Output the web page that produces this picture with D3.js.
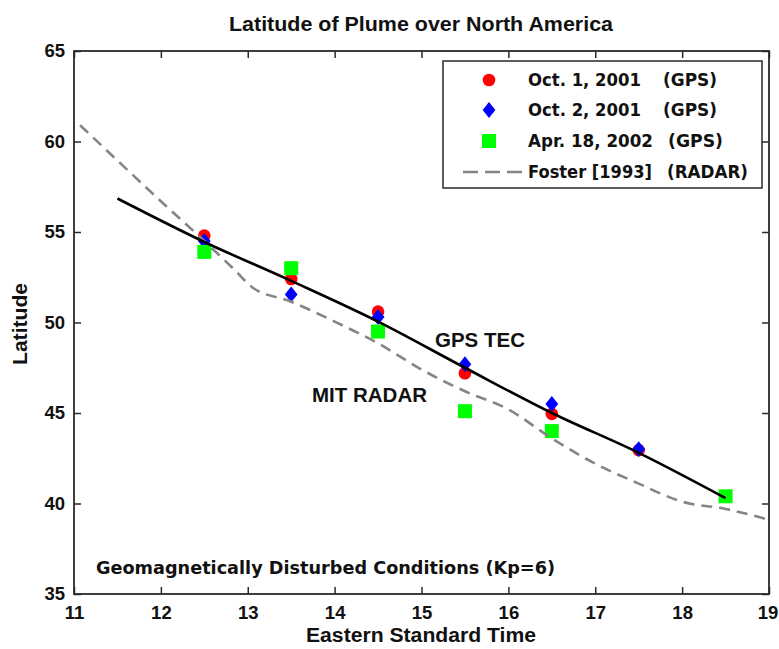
<!DOCTYPE html>
<html>
<head>
<meta charset="utf-8">
<script src="https://cdn.jsdelivr.net/npm/d3@7"></script>
<style>
  html, body { margin: 0; padding: 0; background: #fff; }
  svg { display: block; }
  .sans { font-family: "Liberation Sans", Arial, Helvetica, sans-serif; font-weight: bold; }
  .wide { font-family: "DejaVu Sans", Verdana, sans-serif; font-weight: bold; }
</style>
</head>
<body>
<svg id="chart" width="779" height="649"></svg>
<script>
// Hours (EST) at which each day's plume latitude was measured
const hours = [12.5, 13.5, 14.5, 15.5, 16.5, 17.5, 18.5];
const oct1 = [54.8, 52.4, 50.6, 47.2, 44.95, 42.95, null];
const oct2 = [54.5, 51.55, 50.3, 47.7, 45.5, 43.0, null];
const apr18 = [53.9, 53.0, 49.5, 45.1, 44.0, null, 40.4];

// GPS TEC fit line
const tecHours = [11.5, 12.5, 13.5, 14.5, 15.5, 16.5, 17.5, 18.5];
const tecLat = [56.85, 54.45, 52.3, 50.05, 47.5, 45.0, 42.8, 40.3];

// Foster [1993] radar model
const fosterHours = [11.07, 11.5, 12.0, 12.5, 12.85, 13.05, 13.5, 14.0, 14.5, 15.0, 15.5, 16.0, 16.5, 17.0, 17.5, 18.0, 18.5, 19.0];
const fosterLat = [60.9, 58.95, 56.7, 54.5, 52.9, 51.95, 51.15, 50.05, 48.85, 47.4, 46.2, 45.2, 43.6, 42.2, 41.1, 40.1, 39.7, 39.1];

const xTicks = [11, 12, 13, 14, 15, 16, 17, 18, 19];
const yTicks = [35, 40, 45, 50, 55, 60, 65];

const legendDates = ["Oct. 1, 2001", "Oct. 2, 2001", "Apr. 18, 2002", "Foster [1993]"];
const legendSources = ["(GPS)", "(GPS)", "(GPS)", "(RADAR)"];

const svg = d3.select("#chart");
const L = 74, R = 769, T = 51, B = 594;
const x = d3.scaleLinear().domain([11, 19]).range([L, R]);
const y = d3.scaleLinear().domain([35, 65]).range([B, T]);

const axisColor = "#2a2a2a";
const textColor = "#111";

// axes with inward ticks on all four sides
const gx = svg.append("g").attr("transform", `translate(0,${B})`)
  .call(d3.axisBottom(x).tickValues(xTicks).tickSizeInner(-7).tickSizeOuter(0).tickPadding(12).tickFormat(d3.format("d")));
const gxTop = svg.append("g").attr("transform", `translate(0,${T})`)
  .call(d3.axisTop(x).tickValues(xTicks).tickSizeInner(-7).tickSizeOuter(0).tickFormat(""));
const gy = svg.append("g").attr("transform", `translate(${L},0)`)
  .call(d3.axisLeft(y).tickValues(yTicks).tickSizeInner(-7).tickSizeOuter(0).tickPadding(9).tickFormat(d3.format("d")));
const gyRight = svg.append("g").attr("transform", `translate(${R},0)`)
  .call(d3.axisRight(y).tickValues(yTicks).tickSizeInner(-7).tickSizeOuter(0).tickFormat(""));

[gx, gxTop, gy, gyRight].forEach(g => {
  g.select(".domain").remove();
  g.selectAll(".tick line").attr("stroke", axisColor).attr("stroke-width", 1.5);
  g.selectAll(".tick text").attr("class", "sans").attr("font-size", 18.5).attr("fill", textColor);
});
// keep the last hour label inside the page
gx.selectAll(".tick text").filter(d => d === 19).attr("x", -1.5);

// plot frame
svg.append("rect").attr("x", L).attr("y", T).attr("width", R - L).attr("height", B - T)
  .attr("fill", "none").attr("stroke", axisColor).attr("stroke-width", 1.8);

// title and axis labels
svg.append("text").attr("class", "sans").attr("x", 421).attr("y", 31)
  .attr("text-anchor", "middle").attr("font-size", 19.5).attr("fill", textColor)
  .attr("textLength", 384).attr("lengthAdjust", "spacingAndGlyphs")
  .text("Latitude of Plume over North America");
svg.append("text").attr("class", "sans").attr("x", 421).attr("y", 642)
  .attr("text-anchor", "middle").attr("font-size", 20).attr("fill", textColor)
  .attr("textLength", 230).attr("lengthAdjust", "spacingAndGlyphs")
  .text("Eastern Standard Time");
svg.append("text").attr("class", "sans").attr("transform", "translate(27,324) rotate(-90)")
  .attr("text-anchor", "middle").attr("font-size", 20).attr("fill", textColor)
  .attr("textLength", 82).attr("lengthAdjust", "spacingAndGlyphs")
  .text("Latitude");

// markers
const circleSym = d3.symbol().type(d3.symbolCircle).size(125);
const diamondSym = d3.symbol().type(d3.symbolDiamond).size(72);

const plot = svg.append("g");
plot.selectAll(".oct1").data(hours.map((h, i) => [h, oct1[i]]).filter(d => d[1] != null))
  .join("path").attr("class", "oct1").attr("d", circleSym).attr("fill", "#ff0000")
  .attr("transform", d => `translate(${x(d[0])},${y(d[1])})`);
plot.selectAll(".oct2").data(hours.map((h, i) => [h, oct2[i]]).filter(d => d[1] != null))
  .join("path").attr("class", "oct2").attr("d", diamondSym).attr("fill", "#0000ff")
  .attr("transform", d => `translate(${x(d[0])},${y(d[1])}) scale(1.4,1)`);
plot.selectAll(".apr18").data(hours.map((h, i) => [h, apr18[i]]).filter(d => d[1] != null))
  .join("rect").attr("class", "apr18").attr("fill", "#00ff00")
  .attr("x", d => x(d[0]) - 7).attr("y", d => y(d[1]) - 7).attr("width", 14).attr("height", 14);

// lines
const lineGen = d3.line().x(d => x(d[0])).y(d => y(d[1])).curve(d3.curveMonotoneX);
plot.append("path").datum(fosterHours.map((h, i) => [h, fosterLat[i]]))
  .attr("d", lineGen).attr("fill", "none").attr("stroke", "#858585")
  .attr("stroke-width", 2.6).attr("stroke-dasharray", "11,7");
plot.append("path").datum(tecHours.map((h, i) => [h, tecLat[i]]))
  .attr("d", lineGen).attr("fill", "none").attr("stroke", "#000")
  .attr("stroke-width", 2.6);

// annotations
svg.append("text").attr("class", "sans").attr("x", 435).attr("y", 347)
  .attr("font-size", 20.5).attr("fill", textColor).text("GPS TEC");
svg.append("text").attr("class", "sans").attr("x", 312).attr("y", 402)
  .attr("font-size", 20.5).attr("fill", textColor).text("MIT RADAR");
svg.append("text").attr("class", "wide").attr("x", 96).attr("y", 574)
  .attr("font-size", 17).attr("fill", textColor)
  .attr("textLength", 459).attr("lengthAdjust", "spacingAndGlyphs")
  .text("Geomagnetically Disturbed Conditions (Kp=6)");

// legend
const lg = svg.append("g");
lg.append("rect").attr("x", 443).attr("y", 61).attr("width", 319).attr("height", 127)
  .attr("fill", "#fff").attr("stroke", axisColor).attr("stroke-width", 1.5);
const rowY = [80, 110, 141, 172];
const dateWidth = [113, 113, 125, 124];
const sourceX = [663, 663, 668, 667];
const sourceWidth = [54, 54, 55, 81];
lg.selectAll(".ldate").data(legendDates).join("text").attr("class", "wide ldate")
  .attr("x", 528).attr("y", (d, i) => rowY[i]).attr("dy", "0.36em")
  .attr("font-size", 17).attr("fill", textColor)
  .attr("textLength", (d, i) => dateWidth[i]).attr("lengthAdjust", "spacingAndGlyphs")
  .text(d => d);
lg.selectAll(".lsrc").data(legendSources).join("text").attr("class", "wide lsrc")
  .attr("x", (d, i) => sourceX[i]).attr("y", (d, i) => rowY[i]).attr("dy", "0.36em")
  .attr("font-size", 17).attr("fill", textColor)
  .attr("textLength", (d, i) => sourceWidth[i]).attr("lengthAdjust", "spacingAndGlyphs")
  .text(d => d);
lg.append("path").attr("d", circleSym).attr("fill", "#ff0000")
  .attr("transform", `translate(489,${rowY[0]})`);
lg.append("path").attr("d", diamondSym).attr("fill", "#0000ff")
  .attr("transform", `translate(489,${rowY[1]}) scale(1.4,1)`);
lg.append("rect").attr("x", 482).attr("y", rowY[2] - 7).attr("width", 14).attr("height", 14).attr("fill", "#00ff00");
lg.append("line").attr("x1", 463).attr("x2", 523).attr("y1", rowY[3]).attr("y2", rowY[3])
  .attr("stroke", "#858585").attr("stroke-width", 2.6).attr("stroke-dasharray", "15,7");
</script>
</body>
</html>
